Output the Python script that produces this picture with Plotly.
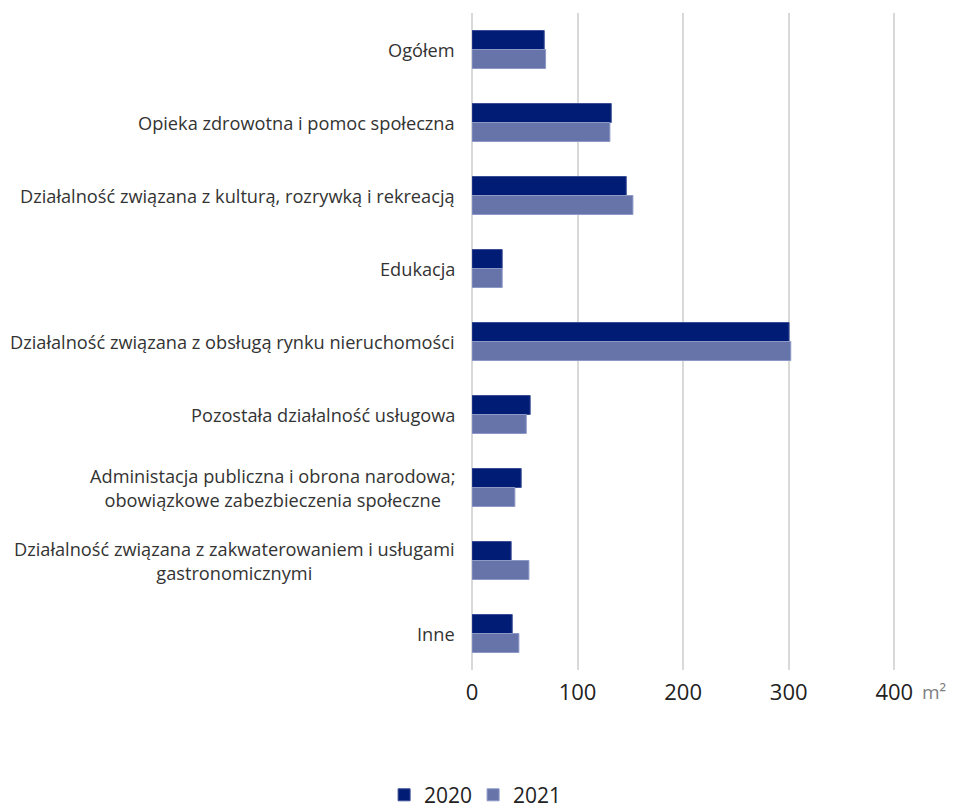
import plotly.graph_objects as go

categories = [
    "Ogółem",
    "Opieka zdrowotna i pomoc społeczna",
    "Działalność związana z kulturą, rozrywką i rekreacją",
    "Edukacja",
    "Działalność związana z obsługą rynku nieruchomości",
    "Pozostała działalność usługowa",
    "Administacja publiczna i obrona narodowa;<br>obowiązkowe zabezbieczenia społeczne",
    "Działalność związana z zakwaterowaniem i usługami<br>gastronomicznymi",
    "Inne",
]
values_2020 = [68.4, 131.9, 146.1, 28.6, 300.3, 55.1, 46.6, 37.1, 38.1]
values_2021 = [69.7, 130.6, 152.4, 28.6, 301.9, 51.4, 40.6, 53.9, 44.4]
tick_values = [0, 100, 200, 300, 400]
unit_label = "m²"

ids = list(range(len(categories)))
FONT = "Open Sans, sans-serif"

fig = go.Figure()
fig.add_trace(go.Bar(y=ids, x=values_2020, orientation="h", name="2020",
                     marker=dict(color="#001c74", line=dict(color="#3a4d95", width=1))))
fig.add_trace(go.Bar(y=ids, x=values_2021, orientation="h", name="2021",
                     marker=dict(color="#6674aa", line=dict(color="#8d98c6", width=1))))

annotations = []
for i, c in enumerate(categories):
    annotations.append(dict(x=0, xref="paper", y=i, yref="y", text=c, showarrow=False,
                            xanchor="right", yanchor="middle", align="center", xshift=-15,
                            font=dict(family=FONT, size=18.2, color="#333333")))
annotations.append(dict(x=tick_values[-1], xref="x", y=0, yref="paper", text=unit_label,
                        showarrow=False, xanchor="left", yanchor="middle", xshift=26, yshift=-22,
                        font=dict(family=FONT, size=19, color="#808080")))

fig.update_layout(
    width=957, height=809,
    margin=dict(l=464, r=39, t=5, b=147, autoexpand=False),
    plot_bgcolor="white", paper_bgcolor="white",
    barmode="group", bargap=0.48, bargroupgap=0,
    xaxis=dict(range=[0, 430], tickvals=tick_values, showgrid=True, gridcolor="#d9d9d9",
               gridwidth=1.5, zeroline=True, zerolinecolor="#d9d9d9", zerolinewidth=1.5,
               tickfont=dict(family=FONT, size=22, color="#222222"),
               ticks="", automargin=False, ticklabelstandoff=7),
    yaxis=dict(tickvals=ids, showticklabels=False, range=[len(ids) - 0.5, -0.5],
               showgrid=False, zeroline=False, automargin=False),
    legend=dict(orientation="h", x=0.486, xref="container", xanchor="center",
                y=0.027, yref="container", yanchor="middle",
                font=dict(family=FONT, size=21, color="#222222"),
                traceorder="normal", itemwidth=30, entrywidth=44, entrywidthmode="pixels"),
    annotations=annotations,
    showlegend=True,
)

fig.write_html("out.html")
